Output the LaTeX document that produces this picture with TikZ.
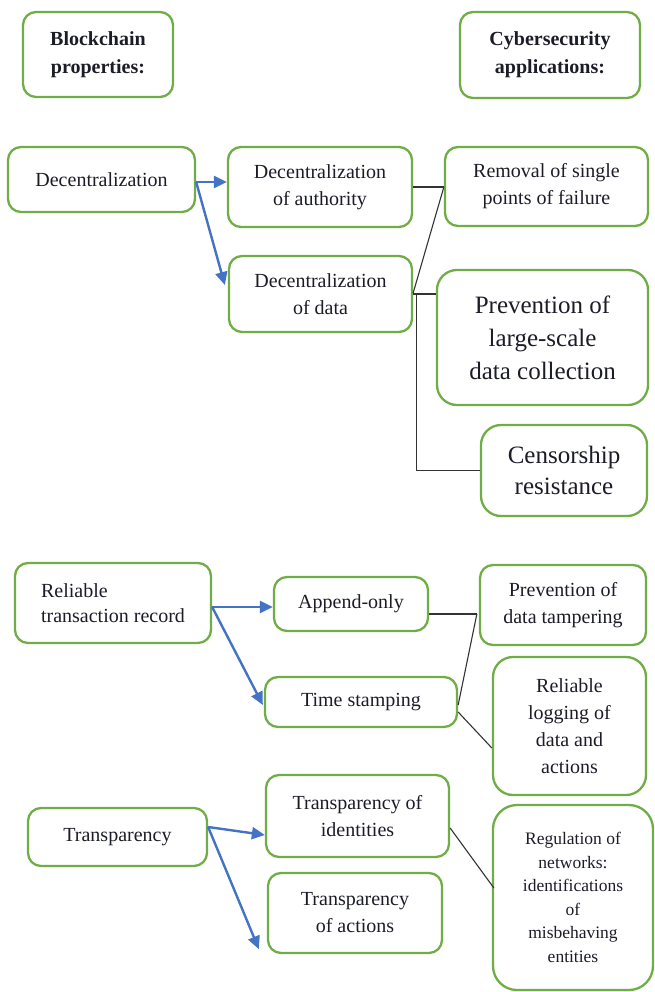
\documentclass[tikz,border=0pt]{standalone}
\usepackage{fontspec}
\setmainfont{Liberation Serif}
\usetikzlibrary{arrows.meta,calc}
\definecolor{bgreen}{HTML}{70AD47}
\definecolor{barrow}{HTML}{4472C4}
\definecolor{txt}{HTML}{1C1C28}
\begin{document}
\begin{tikzpicture}[x=1pt,y=-1pt,
  bx/.style={draw=bgreen, line width=2.3pt, rounded corners=13pt, inner sep=0pt, align=center, text=txt},
  bigbx/.style={bx, rounded corners=20pt},
  fhead/.style={font=\fontsize{20}{28}\bfseries\selectfont},
  fnorm/.style={font=\fontsize{20}{27}\selectfont},
  fbig/.style={font=\fontsize{25}{33}\selectfont},
  fsmall/.style={font=\fontsize{17.5}{23.6}\selectfont},
  arr/.style={draw=barrow, line width=2.4pt, -{Triangle[length=13pt,width=12pt]}},
  lnk/.style={draw=black!80, line width=1.1pt}]
\useasboundingbox (0,0) rectangle (654,992);

% headers
\node[bx,fhead,minimum width=150pt,minimum height=85pt] (hdrL) at (98,54.5) {Blockchain\\properties:};
\node[bx,fhead,minimum width=180pt,minimum height=86pt] (hdrR) at (550,55) {Cybersecurity\\applications:};

% section 1
\node[bx,fnorm,minimum width=187pt,minimum height=65pt] (dec) at (101.5,179.5) {Decentralization};
\node[bx,fnorm,minimum width=184pt,minimum height=80pt] (decAuth) at (320,187) {Decentralization\\of authority};
\node[bx,fnorm,minimum width=183pt,minimum height=76pt] (decData) at (320.5,294) {Decentralization\\of data};
\node[bx,fnorm,minimum width=203pt,minimum height=79pt] (removal) at (546.5,186.5) {Removal of single\\points of failure};
\node[bigbx,fbig,minimum width=211pt,minimum height=135pt] (prevLS) at (542.5,337.5) {Prevention of\\large-scale\\data collection};
\node[bigbx,fbig,font=\fontsize{25}{31}\selectfont,minimum width=166pt,minimum height=91pt] (censor) at (564,470.5) {Censorship\\resistance};

% section 2
\node[bx,fnorm,align=left,font=\fontsize{20}{25}\selectfont,minimum width=196pt,minimum height=80pt] (reliable) at (113,603) {Reliable\\transaction record};
\node[bx,fnorm,minimum width=154pt,minimum height=54pt] (append) at (351,604) {Append-only};
\node[bx,fnorm,minimum width=192pt,minimum height=50pt] (time) at (361,702) {Time stamping};
\node[bx,fnorm,minimum width=166pt,minimum height=80pt] (prevTamp) at (563,605) {Prevention of\\data tampering};
\node[bigbx,fnorm,minimum width=153pt,minimum height=138pt] (logging) at (569.5,726) {Reliable\\logging of\\data and\\actions};

% section 3
\node[bx,fnorm,minimum width=179pt,minimum height=58pt] (transp) at (117.5,837) {Transparency};
\node[bx,fnorm,minimum width=183pt,minimum height=82pt] (transpId) at (357.5,816) {Transparency of\\identities};
\node[bx,fnorm,minimum width=174pt,minimum height=80pt] (transpAct) at (355,913) {Transparency\\of actions};
\node[bigbx,fsmall,rounded corners=24pt,minimum width=160pt,minimum height=185pt] (regul) at (573,897.5) {Regulation of\\networks:\\identifications\\of\\misbehaving\\entities};

% blue arrows
\draw[arr] ([yshift=-2.5pt]dec.east) -- ([yshift=5pt]decAuth.west);
\draw[arr] ([yshift=-2.5pt]dec.east) -- ([xshift=-3pt,yshift=9pt]decData.west);
\draw[arr] ([yshift=-4pt]reliable.east) -- ([yshift=-3pt]append.west);
\draw[arr] ([yshift=-4pt]reliable.east) -- ([xshift=-1pt,yshift=-3pt]time.west);
\draw[arr] ([yshift=10pt]transp.east) -- ([yshift=-19pt]transpId.west);
\draw[arr] ([yshift=10pt]transp.east) -- ([xshift=-8pt,yshift=5pt]transpAct.south west);

% black links, section 1
\coordinate (jR) at (decAuth.east -| removal.west);
\draw[lnk] (decAuth.east) -- (jR);
\draw[lnk] (jR) -- ([yshift=1pt]decData.east);
\draw[lnk] (decData.east) -- (decData.east -| prevLS.west);
\draw[lnk] ([xshift=3pt]decData.east) |- (censor.west);

% black links, section 2
\coordinate (jT) at ($(prevTamp.west)+(-2,9)$);
\draw[lnk] ([yshift=-10pt]append.east) -- (jT);
\draw[lnk] (jT) -- ([yshift=-3pt]time.east);
\draw[lnk] ([yshift=-10pt]time.east) -- ([yshift=-22pt]logging.west);

% black links, section 3
\draw[lnk] ([yshift=-12pt]transpId.east) -- ([xshift=2pt,yshift=9.5pt]regul.west);
\end{tikzpicture}
\end{document}
